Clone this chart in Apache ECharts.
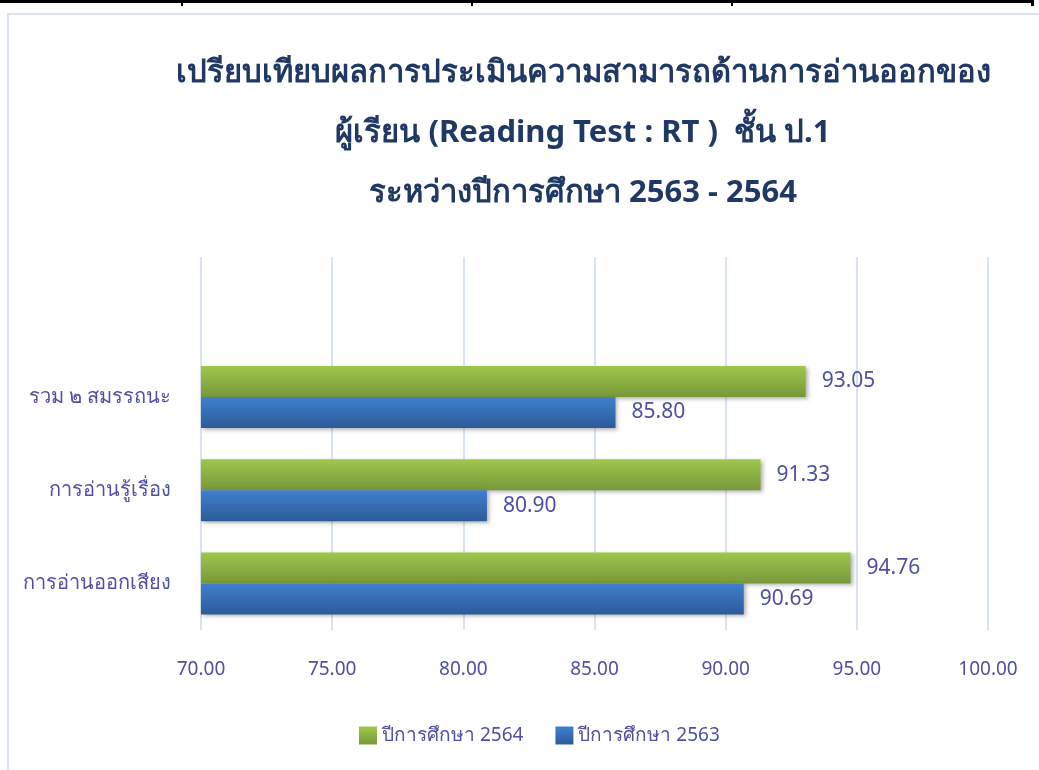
<!DOCTYPE html>
<html>
<head>
<meta charset="utf-8">
<script src="https://cdn.jsdelivr.net/npm/echarts@6/dist/echarts.min.js"></script>
<style>
  html, body { margin: 0; padding: 0; background: #fff; }
  #chart { width: 1039px; height: 770px; }
</style>
</head>
<body>
<div id="chart"></div>
<script>
// categories bottom -> top, last one is the empty slot above the bars
const categories = ['การอ่านออกเสียง', 'การอ่านรู้เรื่อง', 'รวม ๒ สมรรถนะ', ''];
const score2564 = [94.76, 91.33, 93.05, null];
const score2563 = [90.69, 80.90, 85.80, null];
const seriesNames = ['ปีการศึกษา 2564', 'ปีการศึกษา 2563'];
const titleLines = [
  'เปรียบเทียบผลการประเมินความสามารถด้านการอ่านออกของ',
  'ผู้เรียน (Reading Test : RT )  ชั้น ป.1',
  'ระหว่างปีการศึกษา 2563 - 2564'
];

const textColor = '#4f4fa3';
const font = "'Noto Sans', 'Open Sans', sans-serif";

function grad(top, bottom) {
  return new echarts.graphic.LinearGradient(0, 0, 0, 1, [
    { offset: 0, color: top },
    { offset: 1, color: bottom }
  ]);
}

const barLabel = {
  show: true, position: 'right', distance: 16,
  color: textColor, fontSize: 21, fontFamily: font,
  formatter: p => p.value.toFixed(2)
};

const chart = echarts.init(document.getElementById('chart'));

const option = {
  animation: false,
  backgroundColor: '#fff',
  title: {
    text: titleLines.join('\n'),
    left: 578,
    textAlign: 'center',
    top: 38,
    textStyle: {
      color: '#1f3864',
      fontSize: 31,
      fontWeight: 'bold',
      fontFamily: font,
      lineHeight: 60
    }
  },
  graphic: [
    { type: 'rect', shape: { x: 8, y: 14, width: 1100, height: 800 },
      style: { fill: 'none', stroke: '#dae3f3', lineWidth: 2 }, z: -1 },
    { type: 'rect', shape: { x: 0, y: 0, width: 1034, height: 3 },
      style: { fill: '#000' } },
    { type: 'rect', shape: { x: 181, y: 0, width: 2, height: 6 }, style: { fill: '#000' } },
    { type: 'rect', shape: { x: 471, y: 0, width: 2, height: 6 }, style: { fill: '#000' } },
    { type: 'rect', shape: { x: 731, y: 0, width: 2, height: 6 }, style: { fill: '#000' } },
    { type: 'rect', shape: { x: 1031, y: 0, width: 3, height: 6 }, style: { fill: '#000' } }
  ],
  legend: {
    data: seriesNames,
    top: 721,
    left: 354,
    icon: 'rect',
    itemWidth: 18,
    itemHeight: 18,
    itemGap: 32,
    itemStyle: { shadowBlur: 0, shadowOffsetX: 0, shadowOffsetY: 0 },
    textStyle: { color: textColor, fontSize: 19, fontFamily: font }
  },
  grid: { left: 201, right: 51, top: 257, bottom: 140 },
  xAxis: {
    type: 'value',
    min: 70,
    max: 100,
    interval: 5,
    axisLine: { show: false },
    axisTick: { show: false },
    axisLabel: {
      color: textColor, fontSize: 19, fontFamily: font, margin: 30,
      formatter: v => v.toFixed(2)
    },
    splitLine: { lineStyle: { color: '#d9e3f2', width: 2 } }
  },
  yAxis: {
    type: 'category',
    data: categories,
    axisLine: { show: false },
    axisTick: { show: false },
    axisLabel: { color: textColor, fontSize: 20, fontFamily: font, margin: 30 }
  },
  series: [
    {
      name: seriesNames[0],
      type: 'bar',
      data: score2564,
      barWidth: 31,
      barGap: '0%',
      itemStyle: {
        color: grad('#9fc74c', '#77983a'),
        shadowColor: 'rgba(0,0,0,0.3)', shadowBlur: 4, shadowOffsetX: 2, shadowOffsetY: 2
      },
      label: barLabel
    },
    {
      name: seriesNames[1],
      type: 'bar',
      data: score2563,
      barWidth: 31,
      barGap: '0%',
      itemStyle: {
        color: grad('#3f80cf', '#2c5b98'),
        shadowColor: 'rgba(0,0,0,0.3)', shadowBlur: 4, shadowOffsetX: 2, shadowOffsetY: 2
      },
      label: barLabel
    }
  ]
};

chart.setOption(option);
</script>
</body>
</html>
